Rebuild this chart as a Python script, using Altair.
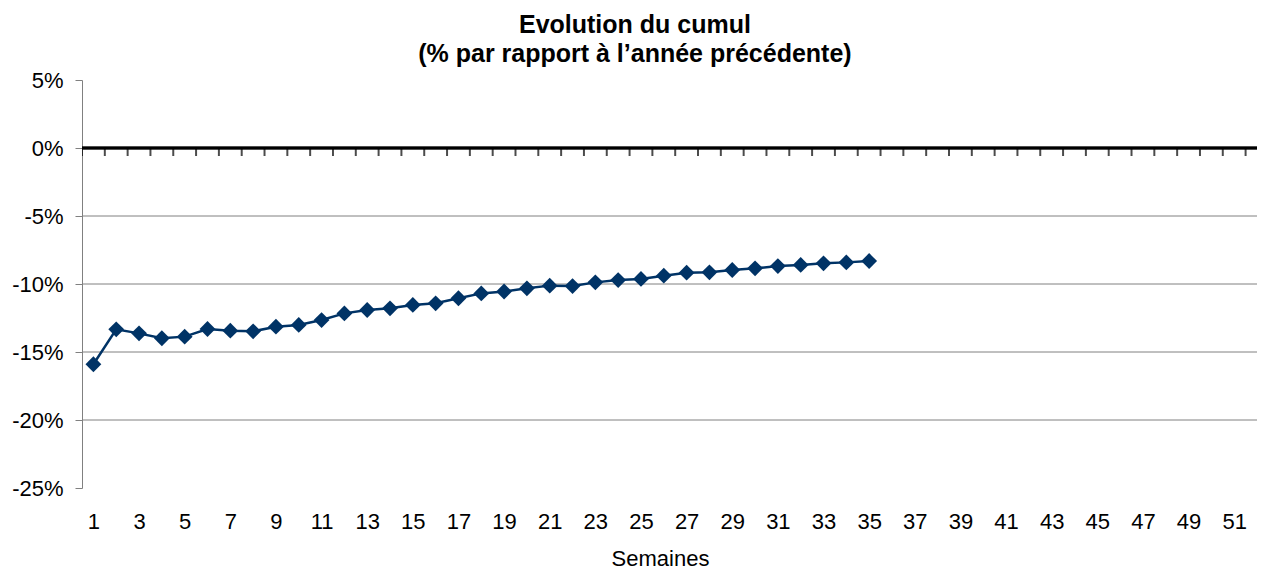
import altair as alt
import pandas as pd

# Data
weeks_all = list(range(1, 53))
weeks = list(range(1, 36))
values = [-15.9, -13.33, -13.63, -13.99, -13.87, -13.31, -13.43, -13.48, -13.14, -13.01,
          -12.65, -12.16, -11.91, -11.79, -11.54, -11.42, -11.05, -10.69, -10.55, -10.32,
          -10.12, -10.15, -9.88, -9.71, -9.63, -9.39, -9.17, -9.14, -8.97, -8.85,
          -8.68, -8.60, -8.48, -8.41, -8.31]
y_ticks = [-25, -20, -15, -10, -5, 0, 5]
grid_values = [-20, -15, -10, -5]
x_labels = [w for w in weeks_all if w % 2 == 1]
boundaries = [w - 0.5 for w in weeks_all]

df = pd.DataFrame({"semaine": weeks, "valeur": values})
grid_df = pd.DataFrame({"g": grid_values})
tick_df = pd.DataFrame({"b": boundaries})

FONT = "Liberation Sans"
GRAY = "#808080"
NAVY = "#003366"

# the last week runs past the right edge of the picture, as in the reference
x_scale = alt.Scale(domain=[0.5, 52.0], nice=False, zero=False)
y_scale = alt.Scale(domain=[-25, 5], nice=False, zero=False)

x_axis = alt.Axis(values=x_labels, ticks=False, domain=False, grid=False,
                  labelPadding=23, labelFontSize=22, labelColor="black", labelFont=FONT,
                  title="Semaines", titleFontSize=22, titleFontWeight="normal",
                  titleFont=FONT, titleColor="black", titlePadding=16, labelFlush=False,
                  titleX=578, titleAlign="center", titleAnchor="start")
y_axis = alt.Axis(values=y_ticks, labelExpr="datum.value + '%'", grid=False,
                  domainColor=GRAY, tickColor=GRAY, tickSize=7, labelPadding=12,
                  labelFontSize=22, labelColor="black", labelFont=FONT, title=None)

base_line = alt.Chart(df).mark_line(
    color=NAVY, strokeWidth=2.5,
    point=alt.OverlayMarkDef(shape="diamond", size=250, filled=True, color=NAVY, opacity=1)
).encode(
    x=alt.X("semaine:Q", scale=x_scale, axis=x_axis),
    y=alt.Y("valeur:Q", scale=y_scale, axis=y_axis),
)

grid = alt.Chart(grid_df).mark_rule(color=GRAY, strokeWidth=1).encode(
    y=alt.Y("g:Q", scale=y_scale)
)

zero = alt.Chart(grid_df).mark_rule(color="black", strokeWidth=2.5).encode(
    y=alt.datum(0, scale=y_scale)
)

ticks = alt.Chart(tick_df).mark_tick(color="black", orient="vertical", size=8,
                                     thickness=2, yOffset=4, clip=True).encode(
    x=alt.X("b:Q", scale=x_scale),
    y=alt.datum(0),
)

chart = alt.layer(grid, zero, ticks, base_line).properties(
    width=1175,
    height=408,
    autosize=alt.AutoSizeParams(type="none"),
    padding={"left": 74, "top": 72, "right": 0, "bottom": 84},
    title=alt.Title(["Evolution du cumul", "(% par rapport à l’année précédente)"],
                    fontSize=25, fontWeight="bold", font=FONT, color="black",
                    lineHeight=29, anchor="middle", frame="bounds", offset=2),
).configure(font=FONT).configure_view(stroke=None)

chart.save("out.html", embed_options={"renderer": "svg", "actions": False})
